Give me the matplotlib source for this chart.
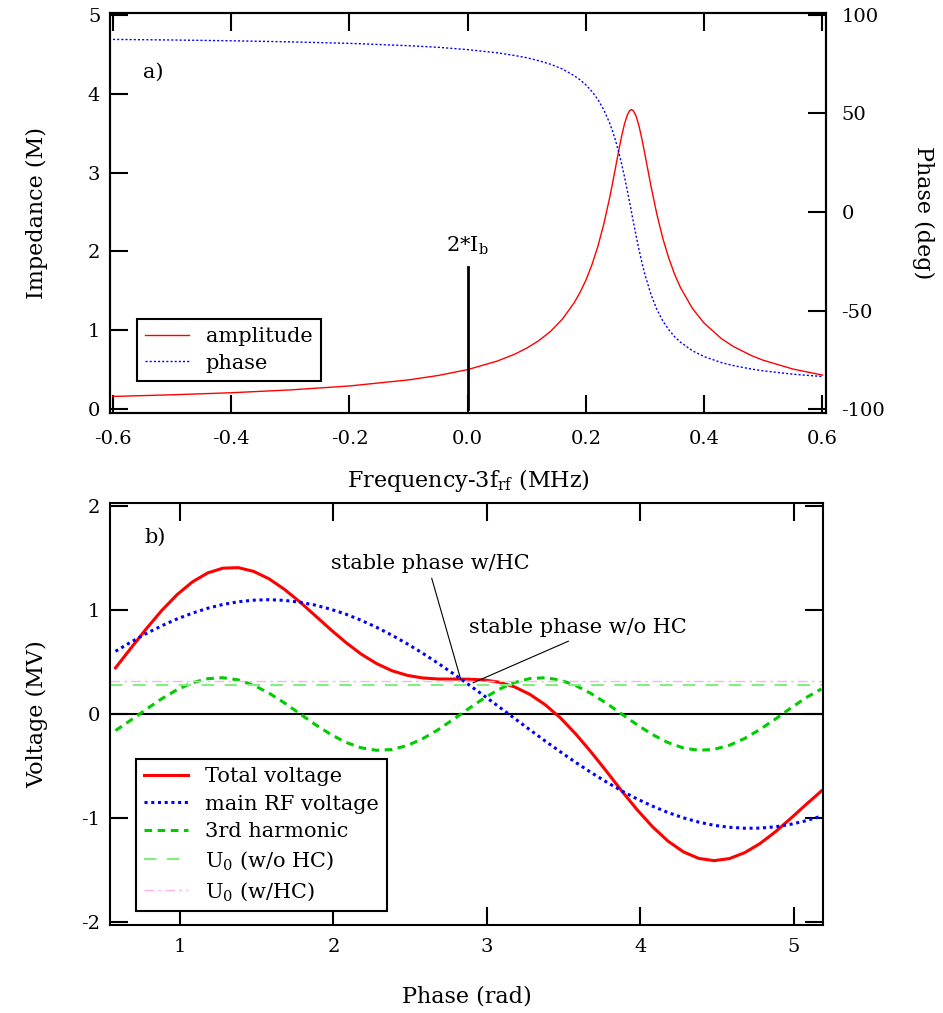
import numpy as np
import matplotlib.pyplot as plt

plt.rcParams['font.family'] = 'DejaVu Serif'
plt.rcParams['mathtext.fontset'] = 'dejavuserif'
plt.rcParams['axes.unicode_minus'] = False

# ---- panel a) : cavity impedance around 3*f_rf

freq = [-0.6, -0.5, -0.4, -0.3, -0.2, -0.1, -0.05, 0.0, 0.05, 0.08, 0.1, 0.12, 0.14, 0.16,
        0.18, 0.19, 0.2, 0.21, 0.22, 0.23, 0.24, 0.245, 0.25, 0.255, 0.26, 0.265, 0.27, 0.274,
        0.277, 0.28, 0.285, 0.29, 0.295, 0.3, 0.31, 0.32, 0.33, 0.34, 0.35, 0.36, 0.38, 0.4,
        0.43, 0.45, 0.48, 0.5, 0.55, 0.6]
amplitude = [0.159, 0.180, 0.206, 0.242, 0.292, 0.369, 0.425, 0.500, 0.608, 0.697, 0.773,
             0.866, 0.984, 1.139, 1.347, 1.479, 1.637, 1.828, 2.060, 2.341, 2.678, 2.866,
             3.063, 3.262, 3.450, 3.613, 3.733, 3.787, 3.800, 3.787, 3.713, 3.582, 3.412,
             3.221, 2.827, 2.469, 2.165, 1.915, 1.709, 1.539, 1.277, 1.088, 0.888, 0.790,
             0.677, 0.618, 0.507, 0.430]
phase_deg = [87.6, 87.3, 86.9, 86.35, 85.6, 84.4, 83.6, 82.4, 80.8, 79.4, 78.3, 76.8, 75.0,
             72.6, 69.2, 67.1, 64.5, 61.2, 57.2, 52.0, 45.2, 41.0, 36.3, 30.9, 24.8, 18.1,
             10.8, 4.7, 0.0, -4.7, -12.3, -19.5, -26.1, -32.0, -41.9, -49.5, -55.3, -59.7,
             -63.3, -66.1, -70.4, -73.4, -76.5, -78.0, -79.7, -80.6, -82.3, -83.5]

ib_freq = 0.0
ib_height = 1.8

# ---- panel b) : voltages vs phase

phi = [0.58, 0.68, 0.78, 0.88, 0.98, 1.08, 1.18, 1.28, 1.38, 1.48, 1.58, 1.68, 1.78, 1.88,
       1.98, 2.08, 2.18, 2.28, 2.38, 2.48, 2.58, 2.68, 2.78, 2.88, 2.98, 3.08, 3.18, 3.28,
       3.38, 3.48, 3.58, 3.68, 3.78, 3.88, 3.98, 4.08, 4.18, 4.28, 4.38, 4.48, 4.58, 4.68,
       4.78, 4.88, 4.98, 5.08, 5.18]
v_main = [0.603, 0.692, 0.774, 0.848, 0.914, 0.970, 1.017, 1.054, 1.080, 1.095, 1.100, 1.093,
          1.076, 1.048, 1.009, 0.961, 0.902, 0.835, 0.759, 0.676, 0.586, 0.490, 0.389, 0.284,
          0.177, 0.068, -0.042, -0.152, -0.260, -0.365, -0.467, -0.564, -0.655, -0.741,
          -0.818, -0.887, -0.948, -0.999, -1.040, -1.071, -1.090, -1.099, -1.098, -1.085,
          -1.061, -1.027, -0.982]
v_harm = [-0.159, -0.059, 0.045, 0.146, 0.233, 0.300, 0.340, 0.349, 0.328, 0.277, 0.201, 0.107,
          0.004, -0.100, -0.194, -0.272, -0.325, -0.349, -0.342, -0.304, -0.239, -0.153,
          -0.053, 0.051, 0.151, 0.238, 0.303, 0.341, 0.349, 0.326, 0.273, 0.196, 0.102,
          -0.002, -0.105, -0.199, -0.275, -0.327, -0.349, -0.340, -0.301, -0.235, -0.148,
          -0.048, 0.057, 0.157, 0.242]
v_total = [0.444, 0.633, 0.819, 0.994, 1.147, 1.270, 1.357, 1.403, 1.408, 1.372, 1.301, 1.200,
           1.080, 0.948, 0.815, 0.689, 0.577, 0.486, 0.417, 0.372, 0.347, 0.337, 0.336, 0.335,
           0.328, 0.306, 0.261, 0.189, 0.089, -0.039, -0.194, -0.368, -0.553, -0.743, -0.923,
           -1.086, -1.223, -1.326, -1.389, -1.411, -1.391, -1.334, -1.246, -1.133, -1.004,
           -0.870, -0.740]

u0_wo_hc = 0.28
u0_w_hc = 0.32

stable_w_hc = (2.83, 0.33)
stable_wo_hc = (2.91, 0.30)

###############################################################################################

fig = plt.figure(figsize=(9.43, 10.13), dpi=100)

ax_a = fig.add_axes([110 / 943, 1 - 413 / 1013, 716 / 943, 400 / 1013])
ax_b = fig.add_axes([110 / 943, 1 - 925 / 1013, 713 / 943, 422 / 1013])

tick_kw = dict(direction='in', length=13, width=1.5, labelsize=14)

# panel a)

ax_a2 = ax_a.twinx()

l_amp, = ax_a.plot(freq, amplitude, color='#ff0000', lw=1.0, label='amplitude')
l_ph, = ax_a2.plot(freq, phase_deg, color='#0000ff', lw=1.0, linestyle=(0, (1.5, 1.5)), label='phase')
ax_a.plot([ib_freq, ib_freq], [0, ib_height], color='black', lw=2)
ax_a.text(ib_freq, 2.07, '2*I$_\\mathrm{b}$', ha='center', va='center', fontsize=15)
ax_a.text(0.046, 0.853, 'a)', transform=ax_a.transAxes, ha='left', va='center', fontsize=15)

ax_a.set_xlim(-0.605, 0.606)
ax_a.set_ylim(-0.051, 5.025)
ax_a2.set_ylim(-102, 101)
ax_a.set_xticks(np.arange(-0.6, 0.61, 0.2))
ax_a.set_xticklabels(['-0.6', '-0.4', '-0.2', '0.0', '0.2', '0.4', '0.6'])
ax_a.set_yticks([0, 1, 2, 3, 4, 5])
ax_a2.set_yticks([-100, -50, 0, 50, 100])

ax_a.tick_params(axis='x', top=True, pad=12, **tick_kw)
ax_a.tick_params(axis='y', right=False, pad=7, **tick_kw)
ax_a2.tick_params(axis='y', pad=11, **tick_kw)

ax_a.set_xlabel('Frequency-3f$_\\mathrm{rf}$ (MHz)', fontsize=16)
ax_a.set_ylabel('Impedance (M)', fontsize=16)
ax_a2.set_ylabel('Phase (deg)', fontsize=16, rotation=-90)
ax_a.xaxis.set_label_coords(0.5, -0.135)
ax_a.yaxis.set_label_coords(-0.0866, 0.5)
ax_a2.yaxis.set_label_coords(1.151, 0.5)

ax_a2.legend(handles=[l_amp, l_ph], loc='lower left', bbox_to_anchor=(0.0377, 0.08),
             borderaxespad=0, fontsize=15, handlelength=2.1, labelspacing=0.35,
             fancybox=False, framealpha=1, edgecolor='black')

# panel b)

ax_b.axhline(0, color='black', lw=1.5)
ax_b.plot(phi, v_total, color='#ff0000', lw=2.2, label='Total voltage')
ax_b.plot(phi, v_main, color='#0000ff', lw=2.2, linestyle=(0, (1, 1.2)), label='main RF voltage')
ax_b.plot(phi, v_harm, color='#00cc00', lw=2.2, linestyle=(0, (2.5, 1.8)), label='3rd harmonic')
ax_b.axhline(u0_wo_hc, color='#80ee80', lw=1.5, linestyle=(0, (6, 5)), label='U$_0$ (w/o HC)')
ax_b.axhline(u0_w_hc, color='#ffb0ee', lw=1.0, linestyle=(0, (7, 3, 2, 3)), label='U$_0$ (w/HC)')

ax_b.annotate('stable phase w/HC', xy=stable_w_hc, xytext=(2.63, 1.45), ha='center', va='center',
              fontsize=15, arrowprops=dict(arrowstyle='-', lw=0.8, color='black', relpos=(0.5, 0),
                                           shrinkA=2, shrinkB=0))
ax_b.annotate('stable phase w/o HC', xy=stable_wo_hc, xytext=(3.59, 0.83), ha='center', va='center',
              fontsize=15, arrowprops=dict(arrowstyle='-', lw=0.8, color='black', relpos=(0.5, 0),
                                           shrinkA=2, shrinkB=0))
ax_b.text(0.049, 0.919, 'b)', transform=ax_b.transAxes, ha='left', va='center', fontsize=15)

ax_b.set_xlim(0.544, 5.19)
ax_b.set_ylim(-2.03, 2.03)
ax_b.set_xticks([1, 2, 3, 4, 5])
ax_b.set_yticks([-2, -1, 0, 1, 2])
ax_b.tick_params(axis='x', top=True, pad=9, **tick_kw)
ax_b.tick_params(axis='y', right=True, pad=7, **tick_kw)

ax_b.set_xlabel('Phase (rad)', fontsize=16)
ax_b.set_ylabel('Voltage (MV)', fontsize=16)
ax_b.xaxis.set_label_coords(0.5, -0.1445)
ax_b.yaxis.set_label_coords(-0.087, 0.5)

ax_b.legend(loc='lower left', bbox_to_anchor=(0.0365, 0.033), borderaxespad=0, fontsize=15,
            handlelength=2.1, labelspacing=0.4, fancybox=False, framealpha=1, edgecolor='black')

for ax in (ax_a, ax_a2, ax_b):
    for sp in ax.spines.values():
        sp.set_linewidth(1.5)

for leg in (ax_a2.get_legend(), ax_b.get_legend()):
    leg.get_frame().set_linewidth(1.5)

fig.savefig('out.png', dpi=100)
